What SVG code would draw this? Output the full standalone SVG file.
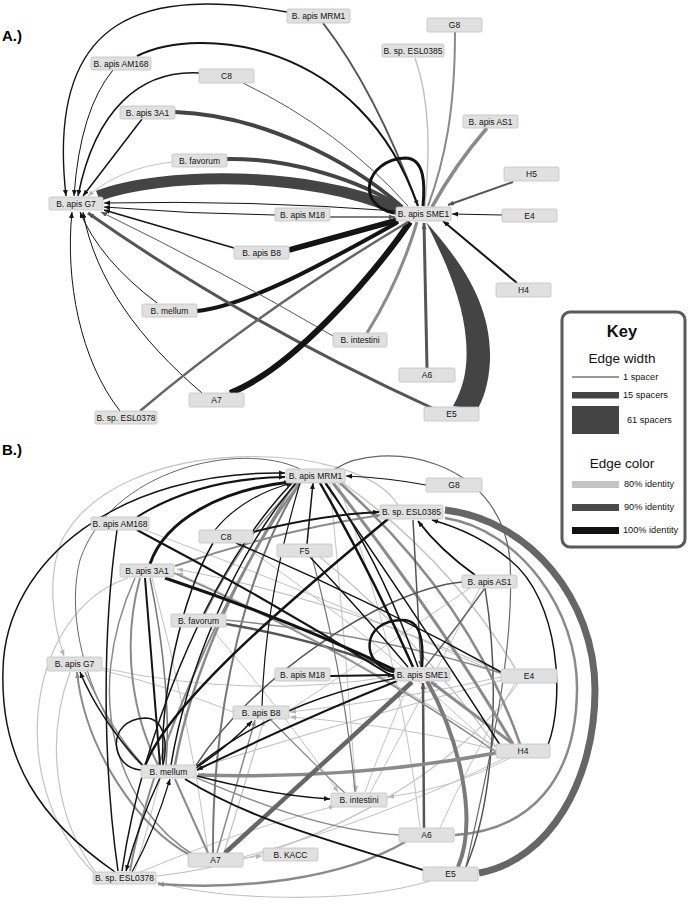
<svg xmlns="http://www.w3.org/2000/svg" width="688" height="907" viewBox="0 0 688 907">
<style>
.e{fill:none;stroke-linecap:butt}
.k{stroke:#141414}
.g{stroke:#555}
.m{stroke:#8a8a8a}
.l{stroke:#c2c2c2}
.node rect{fill:#e0e0e0;stroke:#c2c2c2;stroke-width:0.8}
.node text{font-family:"Liberation Sans",Arial,sans-serif;font-size:8.5px;fill:#111;text-anchor:middle}
.panel{font-family:"Liberation Sans",Arial,sans-serif;font-size:15px;font-weight:bold;fill:#000}
.kt{font-family:"Liberation Sans",Arial,sans-serif;fill:#111}
.ks{font-family:"Liberation Sans",Arial,sans-serif;font-size:9.2px;fill:#111}
</style>
<defs>
<marker id="ak" markerUnits="userSpaceOnUse" markerWidth="6" markerHeight="5" refX="6" refY="2.5" orient="auto"><path d="M0,0L6,2.5L0,5Z" fill="#141414"/></marker>
<marker id="ag" markerUnits="userSpaceOnUse" markerWidth="6" markerHeight="5" refX="6" refY="2.5" orient="auto"><path d="M0,0L6,2.5L0,5Z" fill="#555"/></marker>
<marker id="am" markerUnits="userSpaceOnUse" markerWidth="6" markerHeight="5" refX="6" refY="2.5" orient="auto"><path d="M0,0L6,2.5L0,5Z" fill="#8a8a8a"/></marker>
<marker id="al" markerUnits="userSpaceOnUse" markerWidth="6" markerHeight="5" refX="6" refY="2.5" orient="auto"><path d="M0,0L6,2.5L0,5Z" fill="#b5b5b5"/></marker>
</defs>
<rect width="688" height="907" fill="#fff"/>
<text class="panel" x="2" y="41">A.)</text>
<text class="panel" x="2" y="455">B.)</text>

<g id="edges-a">
<path class="e l" stroke-width="1.5" d="M415,58 C430,100 430,150 425,206"/>
<path class="e l" stroke-width="1" d="M172,162 Q120,168 88,196" marker-end="url(#al)"/>
<path class="e" stroke="#444" stroke-width="11" d="M98,196 C160,172 310,170 398,210"/>
<path class="e k" stroke-width="1.4" d="M287,12 C150,-12 45,10 66,196" marker-end="url(#ak)"/>
<path class="e g" stroke-width="2" d="M323,23 Q375,90 418,206" marker-end="url(#ag)"/>
<path class="e k" stroke-width="2" d="M137,56 C200,25 360,40 418,206"/>
<path class="e k" stroke-width="1" d="M113,70 Q80,110 74,196" marker-end="url(#ak)"/>
<path class="e k" stroke-width="1.5" d="M199,73 C140,70 95,110 78,196" marker-end="url(#ak)"/>
<path class="e g" stroke-width="1" d="M243,83 Q340,130 408,206"/>
<path class="e k" stroke-width="1.5" d="M142,119 L83,196" marker-end="url(#ak)"/>
<path class="e" stroke="#444" stroke-width="4" d="M175,112 C260,115 350,160 402,207"/>
<path class="e" stroke="#444" stroke-width="4" d="M227,159 C290,158 360,180 402,208"/>
<path class="e k" stroke-width="1" d="M396,211 Q250,200 104,203" marker-end="url(#ak)"/>
<path class="e k" stroke-width="1" d="M275,215 Q190,214 104,207" marker-end="url(#ak)"/>
<path class="e g" stroke-width="1.5" d="M330,217 L395,217" marker-end="url(#ag)"/>
<path class="e k" stroke-width="1.5" d="M234,248 L104,210" marker-end="url(#ak)"/>
<path class="e k" stroke-width="5.5" d="M289,250 L398,220"/>
<path class="e k" stroke-width="1" d="M157,303 Q100,260 80,212" marker-end="url(#ak)"/>
<path class="e k" stroke-width="4" d="M197,311 C250,305 330,260 398,222"/>
<path class="e g" stroke-width="1" d="M333,336 Q220,270 101,212" marker-end="url(#ag)"/>
<path class="e m" stroke-width="3" d="M367,333 Q400,280 417,222"/>
<path class="e g" stroke-width="3" d="M432,408 Q240,320 88,213" marker-end="url(#ag)"/>
<path class="e k" stroke-width="1" d="M202,393 C140,340 95,280 83,212" marker-end="url(#ak)"/>
<path class="e k" stroke-width="6" d="M230,393 C290,370 370,280 410,222"/>
<path class="e k" stroke-width="1" d="M120,411 C80,360 65,280 72,212" marker-end="url(#ak)"/>
<path class="e" stroke="#666" stroke-width="2.5" d="M140,411 Q260,310 408,222"/>
<path class="e g" stroke-width="3" d="M427,368 L424,223" marker-end="url(#ag)"/>
<path fill="#444" d="M426,222 C455,255 492,300 490,360 C489,385 482,402 477,410 L453,406 C465,385 468,365 466,340 C463,300 445,260 426,222 Z"/>
<path class="e k" stroke-width="2" d="M517,283 L443,221" marker-end="url(#ak)"/>
<path class="e k" stroke-width="1" d="M502,215 L452,214" marker-end="url(#ak)"/>
<path class="e g" stroke-width="2" d="M513,182 L448,205" marker-end="url(#ag)"/>
<path class="e m" stroke-width="3.5" d="M487,128 Q455,165 432,207"/>
<path class="e m" stroke-width="2" d="M455,32 C455,110 445,160 428,206"/>
<path class="e k" stroke-width="3" d="M394,213 C355,205 365,160 405,158 C425,158 425,185 423,206"/>
</g>

<g id="edges-b">
<path class="e l" stroke-width="1.2" d="M398,505 C360,440 120,430 62,540 C45,580 55,630 64,656" marker-end="url(#al)"/>
<path class="e l" stroke-width="1.2" d="M128,578 C30,610 0,780 95,874"/>
<path class="e l" stroke-width="1.2" d="M70,672 C45,740 55,820 97,874"/>
<path class="e l" stroke-width="1" d="M102,668 Q250,700 395,676"/>
<path class="e l" stroke-width="1.2" d="M501,672 Q340,600 177,569" marker-end="url(#al)"/>
<path class="e l" stroke-width="1.2" d="M496,747 Q330,640 177,573" marker-end="url(#al)"/>
<path class="e l" stroke-width="1.2" d="M501,677 Q400,700 290,712" marker-end="url(#al)"/>
<path class="e l" stroke-width="1.2" d="M496,750 Q400,725 290,717" marker-end="url(#al)"/>
<path class="e l" stroke-width="1" d="M510,758 Q450,790 388,797" marker-end="url(#al)"/>
<path class="e l" stroke-width="1.2" d="M502,680 Q350,720 197,768"/>
<path class="e l" stroke-width="1.2" d="M518,683 C450,780 300,860 157,876"/>
<path class="e l" stroke-width="1.2" d="M430,881 C350,905 220,900 157,882"/>
<path class="e l" stroke-width="1" d="M330,483 Q345,640 356,792" marker-end="url(#al)"/>
<path class="e l" stroke-width="1" d="M210,627 Q290,720 338,792" marker-end="url(#al)"/>
<path class="e l" stroke-width="1" d="M152,578 Q190,720 208,852"/>
<path class="e l" stroke-width="1.5" d="M343,483 Q450,560 515,668"/>
<path class="e l" stroke-width="1" d="M244,858 L262,856" marker-end="url(#al)"/>
<path class="e l" stroke-width="1" d="M135,871 Q150,820 160,779"/>
<path class="e l" stroke-width="1" d="M338,483 Q400,650 420,827"/>
<path class="e l" stroke-width="1" d="M505,758 Q380,820 243,857"/>
<path class="e l" stroke-width="1" d="M102,670 Q180,690 233,712"/>
<path class="e l" stroke-width="1" d="M470,588 Q380,650 290,710"/>
<path class="e l" stroke-width="1" d="M480,588 Q420,700 370,793"/>
<path class="e l" stroke-width="1" d="M140,872 Q240,830 335,806" marker-end="url(#al)"/>
<path class="e l" stroke-width="1.2" d="M224,853 L264,720" marker-end="url(#al)"/>
<path class="e l" stroke-width="1.2" d="M320,557 Q420,640 497,748"/>
<path class="e l" stroke-width="1" d="M240,543 Q380,640 497,752"/>
<path class="e l" stroke-width="1" d="M145,530 Q330,600 501,674"/>
<path class="e l" stroke-width="1" d="M410,681 Q380,750 365,792"/>
<path class="e l" stroke-width="1" d="M515,683 Q470,760 440,828"/>

<path class="e" stroke="#666" stroke-width="7" d="M445,510 C530,520 595,600 595,690 C595,780 550,860 479,873"/>
<path class="e m" stroke-width="2.5" d="M445,518 C520,530 578,610 577,690 C576,780 530,830 455,835"/>
<path class="e" stroke="#666" stroke-width="1.2" d="M335,469 C380,440 500,455 510,560 C515,650 490,760 466,867"/>
<path class="e" stroke="#7a7a7a" stroke-width="4" d="M427,681 C460,740 478,820 458,867"/>
<path class="e g" stroke-width="1.5" d="M485,588 C500,680 495,800 466,867"/>
<path class="e g" stroke-width="2.5" d="M424,828 L423,683" marker-end="url(#ag)"/>
<path class="e m" stroke-width="3" d="M513,744 L431,682" marker-end="url(#am)"/>
<path class="e m" stroke-width="3" d="M333,483 Q440,620 513,744"/>
<path class="e m" stroke-width="2.5" d="M340,483 Q470,600 520,744"/>
<path class="e m" stroke-width="3.5" d="M496,753 Q350,780 198,775" marker-end="url(#am)"/>
<path class="e m" stroke-width="1.5" d="M399,835 C320,830 250,800 197,778"/>
<path class="e m" stroke-width="2.5" d="M405,842 C340,880 240,890 158,884" marker-end="url(#am)"/>
<path class="e" stroke="#666" stroke-width="4.5" d="M225,853 L412,682"/>
<path class="e m" stroke-width="2" d="M208,853 L175,779"/>
<path class="e m" stroke-width="1.5" d="M217,853 L255,720" marker-end="url(#am)"/>
<path class="e" stroke="#777" stroke-width="2" d="M213,853 C212,700 250,560 300,483"/>
<path class="e m" stroke-width="2" d="M190,855 C140,830 85,750 77,672" marker-end="url(#am)"/>
<path class="e m" stroke-width="1.5" d="M135,578 C80,700 120,810 195,856"/>
<path class="e m" stroke-width="2" d="M140,578 C120,650 135,720 158,765"/>
<path class="e" stroke="#777" stroke-width="1.5" d="M150,578 C165,650 170,720 166,765"/>
<path class="e m" stroke-width="2.5" d="M300,483 C240,560 190,680 175,765"/>
<path class="e g" stroke-width="2.5" d="M226,624 Q320,640 396,671"/>
<path class="e m" stroke-width="1.5" d="M226,620 Q380,635 501,673"/>
<path class="e m" stroke-width="1.5" d="M174,573 Q350,650 496,752"/>
<path class="e m" stroke-width="1.2" d="M270,719 Q320,770 345,793"/>
<path class="e m" stroke-width="2" d="M175,566 Q280,530 381,515" marker-end="url(#am)"/>
<path class="e g" stroke-width="1.5" d="M462,582 C380,590 250,680 195,767"/>
<path class="e" stroke="#666" stroke-width="1.5" d="M485,588 Q455,630 425,667"/>
<path class="e g" stroke-width="1.5" d="M413,520 L421,667" marker-end="url(#ag)"/>
<path class="e m" stroke-width="1.5" d="M205,614 Q240,540 298,483"/>
<path class="e" stroke="#777" stroke-width="1.2" d="M312,557 Q345,680 355,792"/>
<path class="e" stroke="#666" stroke-width="1" d="M300,469 C240,440 110,470 80,560 C60,640 110,740 143,766"/>
<path class="e m" stroke-width="2" d="M295,483 C220,600 150,760 130,871"/>
<path class="e m" stroke-width="1.5" d="M85,672 Q110,730 145,767"/>

<path class="e k" stroke-width="1.5" d="M115,872 C40,820 0,760 3,670 C5,560 120,470 285,473" marker-end="url(#ak)"/>
<path class="e k" stroke-width="2" d="M137,517 C180,490 230,478 285,477" marker-end="url(#ak)"/>
<path class="e k" stroke-width="3" d="M150,564 C165,520 220,490 290,482" marker-end="url(#ak)"/>
<path class="e k" stroke-width="1.2" d="M215,530 C235,505 265,490 292,483" marker-end="url(#ak)"/>
<path class="e k" stroke-width="1.2" d="M426,485 Q390,478 346,476" marker-end="url(#ak)"/>
<path class="e k" stroke-width="2" d="M253,532 Q320,515 379,512" marker-end="url(#ak)"/>
<path class="e k" stroke-width="2" d="M137,530 Q270,600 395,678"/>
<path class="e k" stroke-width="3" d="M165,578 Q290,620 395,670"/>
<path class="e k" stroke-width="1.5" d="M236,543 Q370,600 501,672"/>
<path class="e k" stroke-width="1.5" d="M310,557 Q360,610 408,667"/>
<path class="e k" stroke-width="1.5" d="M307,544 L313,483" marker-end="url(#ak)"/>
<path class="e k" stroke-width="2.5" d="M320,483 Q370,570 413,667"/>
<path class="e k" stroke-width="1.5" d="M326,483 Q380,560 418,667"/>
<path class="e k" stroke-width="2" d="M330,676 L394,675" marker-end="url(#ak)"/>
<path class="e k" stroke-width="2.5" d="M394,672 C360,665 360,620 403,620 C420,620 424,640 422,667"/>
<path class="e k" stroke-width="2" d="M475,575 Q440,550 418,521" marker-end="url(#ak)"/>
<path class="e k" stroke-width="1.5" d="M548,745 C565,700 560,600 510,560 C480,535 450,525 432,520" marker-end="url(#ak)"/>
<path class="e k" stroke-width="2.5" d="M388,519 C300,592 170,700 145,766"/>
<path class="e k" stroke-width="2" d="M423,870 C330,840 250,820 185,779"/>
<path class="e k" stroke-width="1.5" d="M197,776 Q270,795 330,799" marker-end="url(#ak)"/>
<path class="e k" stroke-width="1.5" d="M196,768 Q230,745 252,721" marker-end="url(#ak)"/>
<path class="e k" stroke-width="1.2" d="M300,483 Q265,600 262,706"/>
<path class="e k" stroke-width="2" d="M397,681 Q300,720 197,770" marker-end="url(#ak)"/>
<path class="e k" stroke-width="1.5" d="M397,678 Q280,700 197,766"/>
<path class="e k" stroke-width="1.5" d="M143,766 Q100,720 80,672" marker-end="url(#ak)"/>
<path class="e k" stroke-width="1.5" d="M141,770 C110,768 105,720 145,718 C165,718 168,745 163,765"/>
<path class="e k" stroke-width="1.5" d="M117,530 C100,650 105,780 118,871"/>
<path class="e k" stroke-width="1.5" d="M213,543 C180,600 160,700 163,765"/>
<path class="e k" stroke-width="1.5" d="M292,483 C200,580 140,750 122,871"/>
<path class="e k" stroke-width="1.5" d="M296,483 C230,560 185,680 171,765"/>
<path class="e k" stroke-width="1.5" d="M160,778 Q140,820 126,871" marker-end="url(#ak)"/>
<path class="e k" stroke-width="1.2" d="M132,872 Q155,830 170,779" marker-end="url(#ak)"/>
<path class="e k" stroke-width="2" d="M145,578 L160,765"/>
<path class="e k" stroke-width="1.5" d="M325,483 Q420,620 500,745"/>
</g>

<g id="nodes-a">
<g id="a-mrm1" class="node"><rect x="287" y="9" width="63" height="14" rx="1.5"/><text x="318.5" y="19">B. apis MRM1</text></g>
<g id="a-am168" class="node"><rect x="91" y="57" width="60" height="13" rx="1.5"/><text x="121" y="66.5">B. apis AM168</text></g>
<g id="a-c8" class="node"><rect x="199" y="69" width="55" height="14" rx="1.5"/><text x="226.5" y="79">C8</text></g>
<g id="a-3a1" class="node"><rect x="120" y="106" width="55" height="13" rx="1.5"/><text x="147.5" y="115.5">B. apis 3A1</text></g>
<g id="a-favorum" class="node"><rect x="172" y="154" width="55" height="13" rx="1.5"/><text x="199.5" y="163.5">B. favorum</text></g>
<g id="a-g7" class="node"><rect x="49" y="197" width="54" height="13" rx="1.5"/><text x="76" y="206.5">B. apis G7</text></g>
<g id="a-m18" class="node"><rect x="275" y="208" width="55" height="13" rx="1.5"/><text x="302.5" y="217.5">B. apis M18</text></g>
<g id="a-esl0385" class="node"><rect x="382" y="44" width="62" height="13" rx="1.5"/><text x="413" y="53.5">B. sp. ESL0385</text></g>
<g id="a-g8" class="node"><rect x="427" y="18" width="55" height="14" rx="1.5"/><text x="454.5" y="28">G8</text></g>
<g id="a-as1" class="node"><rect x="463" y="115" width="55" height="13" rx="1.5"/><text x="490.5" y="124.5">B. apis AS1</text></g>
<g id="a-h5" class="node"><rect x="504" y="167" width="55" height="14" rx="1.5"/><text x="531.5" y="177">H5</text></g>
<g id="a-sme1" class="node"><rect x="396" y="207" width="55" height="14" rx="1.5"/><text x="423.5" y="217">B. apis SME1</text></g>
<g id="a-e4" class="node"><rect x="502" y="209" width="55" height="13" rx="1.5"/><text x="529.5" y="218.5">E4</text></g>
<g id="a-b8" class="node"><rect x="234" y="246" width="55" height="13" rx="1.5"/><text x="261.5" y="255.5">B. apis B8</text></g>
<g id="a-mellum" class="node"><rect x="142" y="304" width="55" height="13" rx="1.5"/><text x="169.5" y="313.5">B. mellum</text></g>
<g id="a-intestini" class="node"><rect x="333" y="333" width="54" height="14" rx="1.5"/><text x="360" y="343">B. intestini</text></g>
<g id="a-a6" class="node"><rect x="399" y="368" width="56" height="14" rx="1.5"/><text x="427" y="378">A6</text></g>
<g id="a-h4" class="node"><rect x="496" y="283" width="55" height="14" rx="1.5"/><text x="523.5" y="293">H4</text></g>
<g id="a-a7" class="node"><rect x="189" y="393" width="55" height="14" rx="1.5"/><text x="216.5" y="403">A7</text></g>
<g id="a-esl0378" class="node"><rect x="95" y="411" width="62" height="13" rx="1.5"/><text x="126" y="420.5">B. sp. ESL0378</text></g>
<g id="a-e5" class="node"><rect x="424" y="407" width="55" height="14" rx="1.5"/><text x="451.5" y="417">E5</text></g>
</g>

<g id="nodes-b">
<g id="b-mrm1" class="node"><rect x="286" y="469" width="59" height="14" rx="1.5"/><text x="315.5" y="479">B. apis MRM1</text></g>
<g id="b-am168" class="node"><rect x="91" y="517" width="58" height="13" rx="1.5"/><text x="120" y="526.5">B. apis AM168</text></g>
<g id="b-c8" class="node"><rect x="199" y="530" width="54" height="13" rx="1.5"/><text x="226" y="539.5">C8</text></g>
<g id="b-f5" class="node"><rect x="277" y="544" width="55" height="13" rx="1.5"/><text x="304.5" y="553.5">F5</text></g>
<g id="b-3a1" class="node"><rect x="120" y="564" width="54" height="13" rx="1.5"/><text x="147" y="573.5">B. apis 3A1</text></g>
<g id="b-favorum" class="node"><rect x="171" y="614" width="55" height="13" rx="1.5"/><text x="198.5" y="623.5">B. favorum</text></g>
<g id="b-g7" class="node"><rect x="47" y="657" width="55" height="14" rx="1.5"/><text x="74.5" y="667">B. apis G7</text></g>
<g id="b-m18" class="node"><rect x="275" y="668" width="55" height="13" rx="1.5"/><text x="302.5" y="677.5">B. apis M18</text></g>
<g id="b-g8" class="node"><rect x="426" y="478" width="56" height="14" rx="1.5"/><text x="454" y="488">G8</text></g>
<g id="b-esl0385" class="node"><rect x="380" y="505" width="63" height="14" rx="1.5"/><text x="411.5" y="515">B. sp. ESL0385</text></g>
<g id="b-as1" class="node"><rect x="462" y="575" width="55" height="13" rx="1.5"/><text x="489.5" y="584.5">B. apis AS1</text></g>
<g id="b-sme1" class="node"><rect x="395" y="668" width="55" height="13" rx="1.5"/><text x="422.5" y="677.5">B. apis SME1</text></g>
<g id="b-e4" class="node"><rect x="501" y="669" width="56" height="14" rx="1.5"/><text x="529" y="679">E4</text></g>
<g id="b-b8" class="node"><rect x="233" y="706" width="56" height="13" rx="1.5"/><text x="261" y="715.5">B. apis B8</text></g>
<g id="b-mellum" class="node"><rect x="141" y="765" width="55" height="13" rx="1.5"/><text x="168.5" y="774.5">B. mellum</text></g>
<g id="b-h4" class="node"><rect x="496" y="744" width="54" height="14" rx="1.5"/><text x="523" y="754">H4</text></g>
<g id="b-intestini" class="node"><rect x="331" y="793" width="56" height="14" rx="1.5"/><text x="359" y="803">B. intestini</text></g>
<g id="b-a6" class="node"><rect x="399" y="828" width="55" height="14" rx="1.5"/><text x="426.5" y="838">A6</text></g>
<g id="b-a7" class="node"><rect x="188" y="853" width="55" height="14" rx="1.5"/><text x="215.5" y="863">A7</text></g>
<g id="b-kacc" class="node"><rect x="263" y="848" width="55" height="13" rx="1.5"/><text x="290.5" y="857.5">B. KACC</text></g>
<g id="b-esl0378" class="node"><rect x="93" y="872" width="63" height="12" rx="1.5"/><text x="124.5" y="881">B. sp. ESL0378</text></g>
<g id="b-e5" class="node"><rect x="423" y="867" width="55" height="14" rx="1.5"/><text x="450.5" y="877">E5</text></g>
</g>

<g id="key">
<rect x="562" y="312" width="123" height="235" rx="8" fill="#fff" stroke="#5a5a5a" stroke-width="3"/>
<text class="kt" x="622" y="337" font-size="16.5" font-weight="bold" text-anchor="middle">Key</text>
<text class="kt" x="622" y="363" font-size="13.5" text-anchor="middle">Edge width</text>
<line x1="572" y1="377" x2="619" y2="377" stroke="#333" stroke-width="1"/>
<text class="ks" x="623" y="380">1 spacer</text>
<rect x="572" y="392" width="47" height="6.5" fill="#444"/>
<text class="ks" x="623" y="398">15 spacers</text>
<rect x="572" y="406" width="47" height="28" fill="#444"/>
<text class="ks" x="627" y="423">61 spacers</text>
<text class="kt" x="622" y="468" font-size="13.5" text-anchor="middle">Edge color</text>
<rect x="572" y="481" width="47" height="7" fill="#c4c4c4"/>
<text class="ks" x="624" y="487">80% identity</text>
<rect x="572" y="504" width="47" height="7" fill="#4a4a4a"/>
<text class="ks" x="624" y="510">90% identity</text>
<rect x="572" y="527" width="47" height="7" fill="#111"/>
<text class="ks" x="623" y="533">100% identity</text>
</g>
</svg>
